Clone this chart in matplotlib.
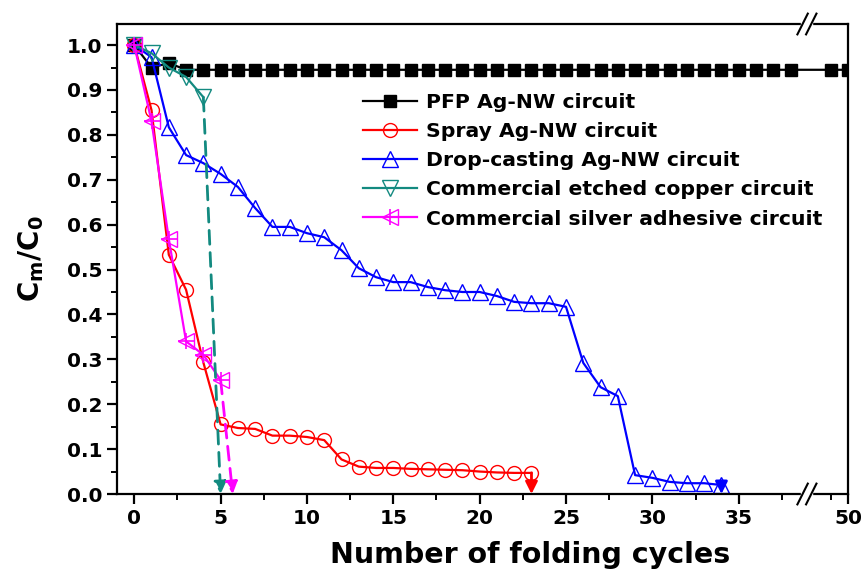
import matplotlib
matplotlib.use("Agg")
import matplotlib.pyplot as plt
from matplotlib.legend_handler import HandlerTuple
import numpy as np

plt.rcParams['font.family'] = ['DejaVu Sans']
plt.rcParams['font.weight'] = 'bold'
plt.rcParams['mathtext.default'] = 'bf'

# data
pfp_x = [0, 1, 2] + list(range(3, 39)) + [49, 50]
pfp_y = [1.0, 0.95, 0.96] + [0.945] * 36 + [0.945, 0.945]

spray_x = list(range(0, 24))
spray_y = [1.0, 0.855, 0.533, 0.455, 0.293, 0.155, 0.147, 0.145, 0.13, 0.13,
           0.127, 0.12, 0.077, 0.061, 0.058, 0.058, 0.056, 0.055, 0.054, 0.053,
           0.05, 0.048, 0.047, 0.047]
spray_end = (23, 0.0)

drop_x = list(range(0, 35))
drop_y = [1.0, 0.973, 0.817, 0.755, 0.737, 0.713, 0.684, 0.637, 0.595, 0.595,
          0.581, 0.572, 0.543, 0.503, 0.483, 0.472, 0.472, 0.461, 0.454, 0.45,
          0.45, 0.441, 0.428, 0.425, 0.425, 0.417, 0.292, 0.238, 0.218, 0.042,
          0.036, 0.027, 0.024, 0.024, 0.02]
drop_end = (34, 0.0)

copper_x = [0, 1, 2, 3, 4]
copper_y = [1.0, 0.982, 0.95, 0.929, 0.884]
copper_end = (5.0, 0.0)

silver_x = [0, 1, 2, 3, 4, 5]
silver_y = [1.0, 0.83, 0.568, 0.34, 0.31, 0.254]
silver_end = (5.7, 0.0)

labels = ['PFP Ag-NW circuit', 'Spray Ag-NW circuit', 'Drop-casting Ag-NW circuit',
          'Commercial etched copper circuit', 'Commercial silver adhesive circuit']

fig = plt.figure(figsize=(8.66, 5.77), dpi=100)
L, R, B, T = 117 / 866, 848 / 866, 1 - 494 / 577, 1 - 24 / 577
split = 0.945
ax = fig.add_axes([L, B, (R - L) * split, T - B])
ax2 = fig.add_axes([L + (R - L) * split, B, (R - L) * (1 - split), T - B])
ax2.set_facecolor('none')

lw = 1.6
ms = 10
teal = '#138a80'
for a in (ax, ax2):
    h1, = a.plot(pfp_x, pfp_y, '-', color='black', lw=lw, marker='s', ms=8,
                 mfc='black', mec='black')
    h2, = a.plot(spray_x, spray_y, '-', color='red', lw=lw, marker='o', ms=ms,
                 mfc='none', mec='red')
    h3, = a.plot(drop_x, drop_y, '-', color='blue', lw=lw, marker='^', ms=ms + 1,
                 mfc='none', mec='blue')
    h4, = a.plot(copper_x, copper_y, '-', color=teal, lw=lw, marker='v', ms=ms + 1,
                 mfc='none', mec=teal)
    h5, = a.plot(silver_x, silver_y, '-', color='magenta', lw=lw, marker='<', ms=ms + 1,
                 mfc='none', mec='magenta')
    h5b, = a.plot(silver_x, silver_y, ' ', marker='+', ms=ms + 2, mec='magenta', mew=1.2)
    a.set_ylim(0, 1.047)
    if a is ax:
        handles = [h1, h2, h3, h4, (h5, h5b)]

# arrows to zero
def arrow(a, start, end, color, ls):
    a.annotate('', xy=end, xytext=start,
               arrowprops=dict(arrowstyle='-|>', color=color, lw=lw + 0.4, ls=ls,
                               mutation_scale=18, shrinkA=0, shrinkB=0))

arrow(ax, (copper_x[-1], copper_y[-1]), copper_end, teal, (0, (5, 3)))
arrow(ax, (silver_x[-1], silver_y[-1]), silver_end, 'magenta', (0, (5, 3)))
arrow(ax, (spray_x[-1], spray_y[-1]), spray_end, 'red', '-')
arrow(ax, (drop_x[-1], drop_y[-1]), drop_end, 'blue', '-')

ax.set_xlim(-1, 39)
ax2.set_xlim(47.7, 50)
ax.set_xticks(np.arange(0, 36, 5))
ax.set_xticks(np.arange(0, 39, 2.5), minor=True)
ax2.set_xticks([50])
ax2.set_xticks([49], minor=True)
ax.set_yticks(np.arange(0, 1.01, 0.1))
ax.set_yticks(np.arange(0, 1.04, 0.05), minor=True)
ax.yaxis.set_major_formatter(matplotlib.ticker.FormatStrFormatter('%.1f'))
ax2.set_yticks([])

for a in (ax, ax2):
    for s in a.spines.values():
        s.set_linewidth(1.6)
    a.tick_params(which='major', direction='out', length=7, width=1.6, labelsize=14.5)
    a.tick_params(which='minor', direction='out', length=4, width=1.4)
    for t in a.get_xticklabels() + a.get_yticklabels():
        t.set_fontweight('bold')
ax.spines['right'].set_visible(False)
ax2.spines['left'].set_visible(False)
ax2.tick_params(axis='y', which='both', left=False)

ax.set_xlabel('Number of folding cycles', fontsize=20.5, fontweight='bold')
ax.xaxis.set_label_coords(0.598, -0.1)
ax.set_ylabel('C$_\\mathbf{m}$/C$_\\mathbf{0}$', fontsize=20,
              fontweight='bold', labelpad=15)

leg = ax.legend(handles, labels, loc='upper left', bbox_to_anchor=(0.345, 0.871),
                frameon=False, fontsize=14.7, handlelength=2.6, labelspacing=0.5,
                handletextpad=0.45, borderaxespad=0,
                handler_map={tuple: HandlerTuple(ndivide=1, pad=0)})
for t in leg.get_texts():
    t.set_fontweight('bold')

# break marks
xb = L + (R - L) * split
for yb in (B, T):
    fig.add_artist(plt.Rectangle((xb - 0.008, yb - 0.003), 0.013, 0.006,
                                 color='white', zorder=5))
    for dx in (-0.006, 0.004):
        fig.add_artist(plt.Line2D([xb + dx - 0.006, xb + dx + 0.006],
                                  [yb - 0.018, yb + 0.018], color='black', lw=1.5,
                                  zorder=6))

fig.savefig('out.png', dpi=100)
